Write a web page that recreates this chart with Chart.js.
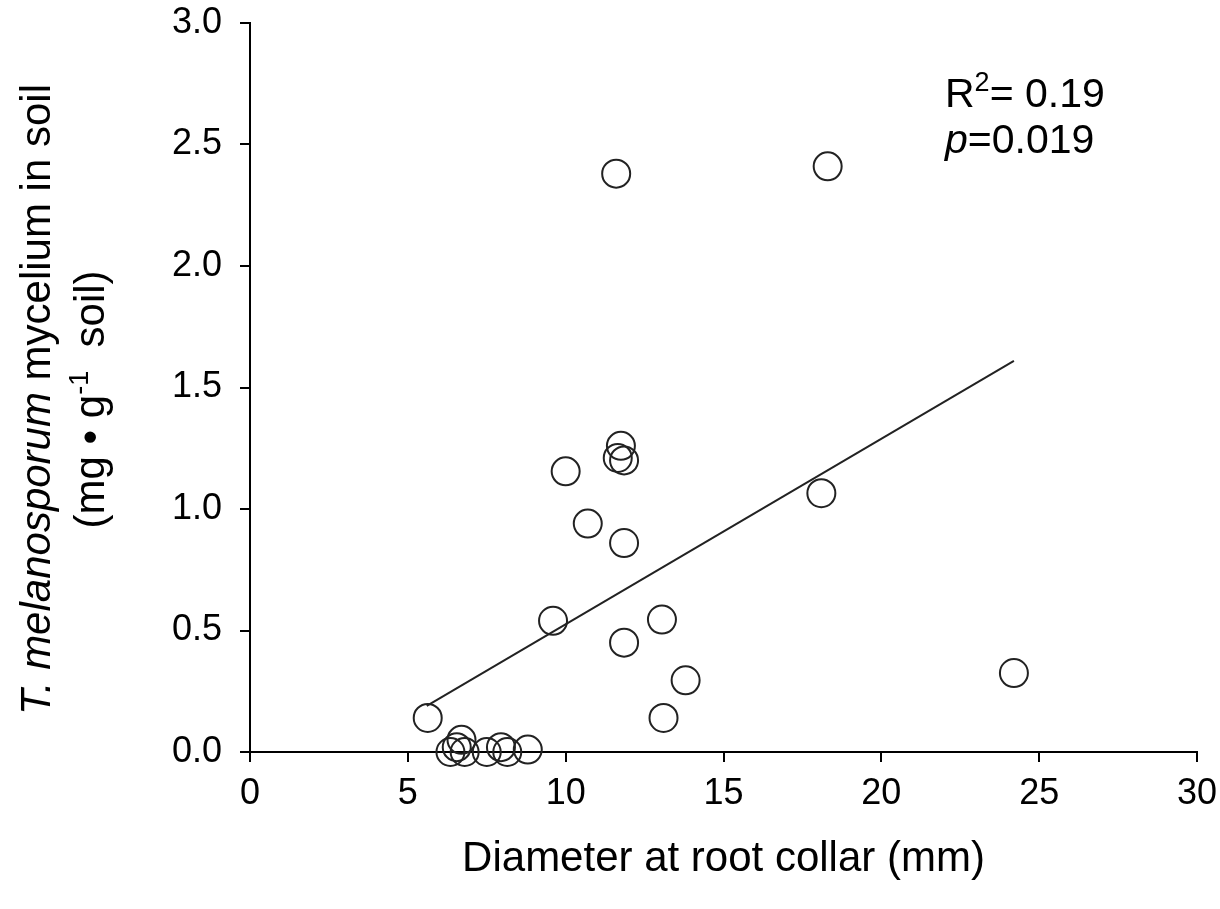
<!DOCTYPE html>
<html>
<head>
<meta charset="utf-8">
<script src="https://cdn.jsdelivr.net/npm/chart.js@4/dist/chart.umd.min.js"></script>
<style>
  html, body { margin: 0; padding: 0; background: #fff; }
  #wrap { width: 1220px; height: 909px; position: relative; }
</style>
</head>
<body>
<div id="wrap"><canvas id="chart"></canvas></div>
<script>
// Diameter vs T. melanosporum mycelium scatter with regression line

const diameter = [5.63, 6.35, 6.55, 6.7, 6.8, 7.5, 7.95, 8.15, 8.8, 9.6, 10.0, 10.7,
                  11.6, 11.75, 11.65, 11.85, 11.85, 11.85, 13.05, 13.1, 13.8, 18.1, 18.3, 24.2];
const mycelium = [0.14, 0.0, 0.02, 0.05, 0.0, 0.0, 0.02, 0.0, 0.01, 0.54, 1.155, 0.94,
                  2.38, 1.26, 1.21, 1.2, 0.86, 0.45, 0.545, 0.14, 0.295, 1.065, 2.41, 0.325];

const trendX = [5.6, 24.2];
const trendY = [0.19, 1.61];

const xTickLabels = ['0', '5', '10', '15', '20', '25', '30'];
const yTickLabels = ['0.0', '0.5', '1.0', '1.5', '2.0', '2.5', '3.0'];

const r2Value = '0.19';
const pValue = '0.019';

const FONT = '"Liberation Sans", Arial, sans-serif';

// draw a row of text runs (normal / italic / superscript), starting at x
function drawRuns(ctx, runs, x, y, size, align) {
  const fontFor = r => (r.italic ? 'italic ' : '') + Math.round(r.sup ? size * 0.65 : size) + 'px ' + FONT;
  let total = 0;
  runs.forEach(r => { ctx.font = fontFor(r); total += ctx.measureText(r.t).width; });
  let cx = align === 'center' ? x - total / 2 : x;
  ctx.textAlign = 'left';
  ctx.textBaseline = 'alphabetic';
  runs.forEach(r => {
    ctx.font = fontFor(r);
    ctx.fillText(r.t, cx, r.sup ? y - size * 0.38 : y);
    cx += ctx.measureText(r.t).width;
  });
}

const textPlugin = {
  id: 'textPlugin',
  afterDraw(chart) {
    const { ctx, chartArea: a } = chart;
    ctx.save();
    ctx.fillStyle = '#000';

    // x axis title
    drawRuns(ctx, [{ t: 'Diameter at root collar (mm)' }], (a.left + a.right) / 2, 871, 42, 'center');

    // y axis title, two lines rotated
    ctx.save();
    ctx.translate(0, (a.top + a.bottom) / 2 + 12);
    ctx.rotate(-Math.PI / 2);
    drawRuns(ctx, [
      { t: 'T. melanosporum', italic: true },
      { t: ' mycelium in soil' }
    ], 0, 50, 42, 'center');
    drawRuns(ctx, [
      { t: '(mg \u2022 g' },
      { t: '-1', sup: true },
      { t: '  soil)' }
    ], 0, 104, 42, 'center');
    ctx.restore();

    // statistics
    drawRuns(ctx, [{ t: 'R' }, { t: '2', sup: true }, { t: '= ' + r2Value }], 945, 107, 41, 'left');
    drawRuns(ctx, [{ t: 'p', italic: true }, { t: '=' + pValue }], 945, 153, 41, 'left');

    ctx.restore();
  }
};

const points = diameter.map((d, i) => ({ x: d, y: mycelium[i] }));
const trend = trendX.map((d, i) => ({ x: d, y: trendY[i] }));

new Chart(document.getElementById('chart'), {
  type: 'scatter',
  data: {
    datasets: [
      {
        data: points,
        pointRadius: 14,
        pointHoverRadius: 14,
        borderWidth: 2,
        borderColor: '#222',
        backgroundColor: 'rgba(0,0,0,0)',
        clip: false
      },
      {
        type: 'line',
        data: trend,
        borderColor: '#222',
        borderWidth: 2,
        pointRadius: 0,
        fill: false
      }
    ]
  },
  options: {
    responsive: true,
    maintainAspectRatio: false,
    animation: false,
    events: [],
    layout: { padding: { top: 23, right: 23, left: 0, bottom: 0 } },
    plugins: { legend: { display: false }, tooltip: { enabled: false } },
    scales: {
      x: {
        type: 'linear',
        min: 0,
        max: 30,
        ticks: {
          stepSize: 5,
          color: '#000',
          padding: 10,
          font: { size: 36, family: FONT },
          callback: (v, i) => xTickLabels[i]
        },
        grid: { drawOnChartArea: false, drawTicks: true, tickLength: 10, color: '#000', lineWidth: 2 },
        border: { display: true, color: '#000', width: 2 },
        afterFit: s => { s.height = 157; s.paddingLeft = 0; s.paddingRight = 0; }
      },
      y: {
        type: 'linear',
        min: 0,
        max: 3,
        ticks: {
          stepSize: 0.5,
          color: '#000',
          padding: 18,
          font: { size: 36, family: FONT },
          callback: (v, i) => yTickLabels[i]
        },
        grid: { drawOnChartArea: false, drawTicks: true, tickLength: 10, color: '#000', lineWidth: 2 },
        border: { display: true, color: '#000', width: 2 },
        afterFit: s => { s.width = 250; s.paddingTop = 0; s.paddingBottom = 0; }
      }
    }
  },
  plugins: [textPlugin]
});
</script>
</body>
</html>
